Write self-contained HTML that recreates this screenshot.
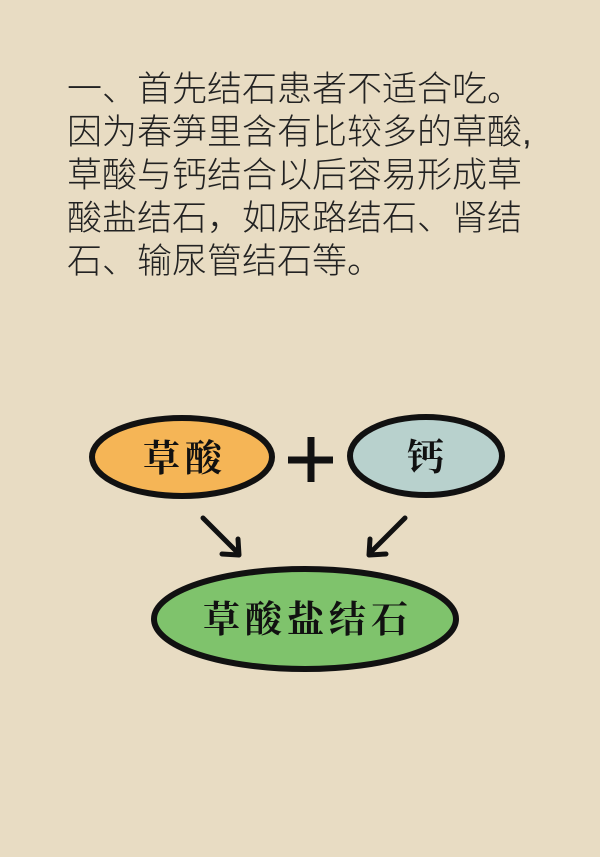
<!DOCTYPE html>
<html><head><meta charset="utf-8"><style>
html,body{margin:0;padding:0}
body{width:600px;height:857px;background:#e8dcc3;position:relative;overflow:hidden}
.t{position:absolute;left:67px;top:68px;font-family:"Liberation Sans","Noto Sans CJK SC",sans-serif;font-size:35px;line-height:43px;color:#222;white-space:nowrap;font-weight:300}
svg{position:absolute;left:0;top:0}
</style></head><body>
<div class="t">一、首先结石患者不适合吃。<br>因为春笋里含有比较多的草酸,<br>草酸与钙结合以后容易形成草<br>酸盐结石，如尿路结石、肾结<br>石、输尿管结石等。</div>
<svg width="600" height="857" viewBox="0 0 600 857">
<ellipse cx="182" cy="457" rx="90" ry="39" fill="#f5b556" stroke="#111" stroke-width="6"/>
<ellipse cx="426" cy="456" rx="76" ry="39" fill="#b8d1cd" stroke="#111" stroke-width="6"/>
<ellipse cx="305" cy="619" rx="151" ry="50" fill="#7fc36c" stroke="#111" stroke-width="6"/>
<line x1="311" y1="437" x2="311" y2="482" stroke="#111" stroke-width="7"/>
<line x1="288" y1="460" x2="333" y2="460" stroke="#111" stroke-width="7"/>
<g stroke="#111" stroke-width="5" fill="none" stroke-linecap="round" stroke-linejoin="round">
<line x1="203" y1="518" x2="238" y2="553"/><polyline points="222,554 239,555 238,539"/>
<line x1="405" y1="518" x2="370" y2="553"/><polyline points="386,554 369,555 370,539"/>
</g>
<g font-family="'Noto Serif CJK SC','Noto Sans CJK SC',serif" font-weight="bold" font-size="37" fill="#111" text-anchor="middle" letter-spacing="5">
<text x="185" y="471">草酸</text>
<text x="428" y="470">钙</text>
<text x="308" y="632">草酸盐结石</text>
</g>
</svg>
</body></html>
